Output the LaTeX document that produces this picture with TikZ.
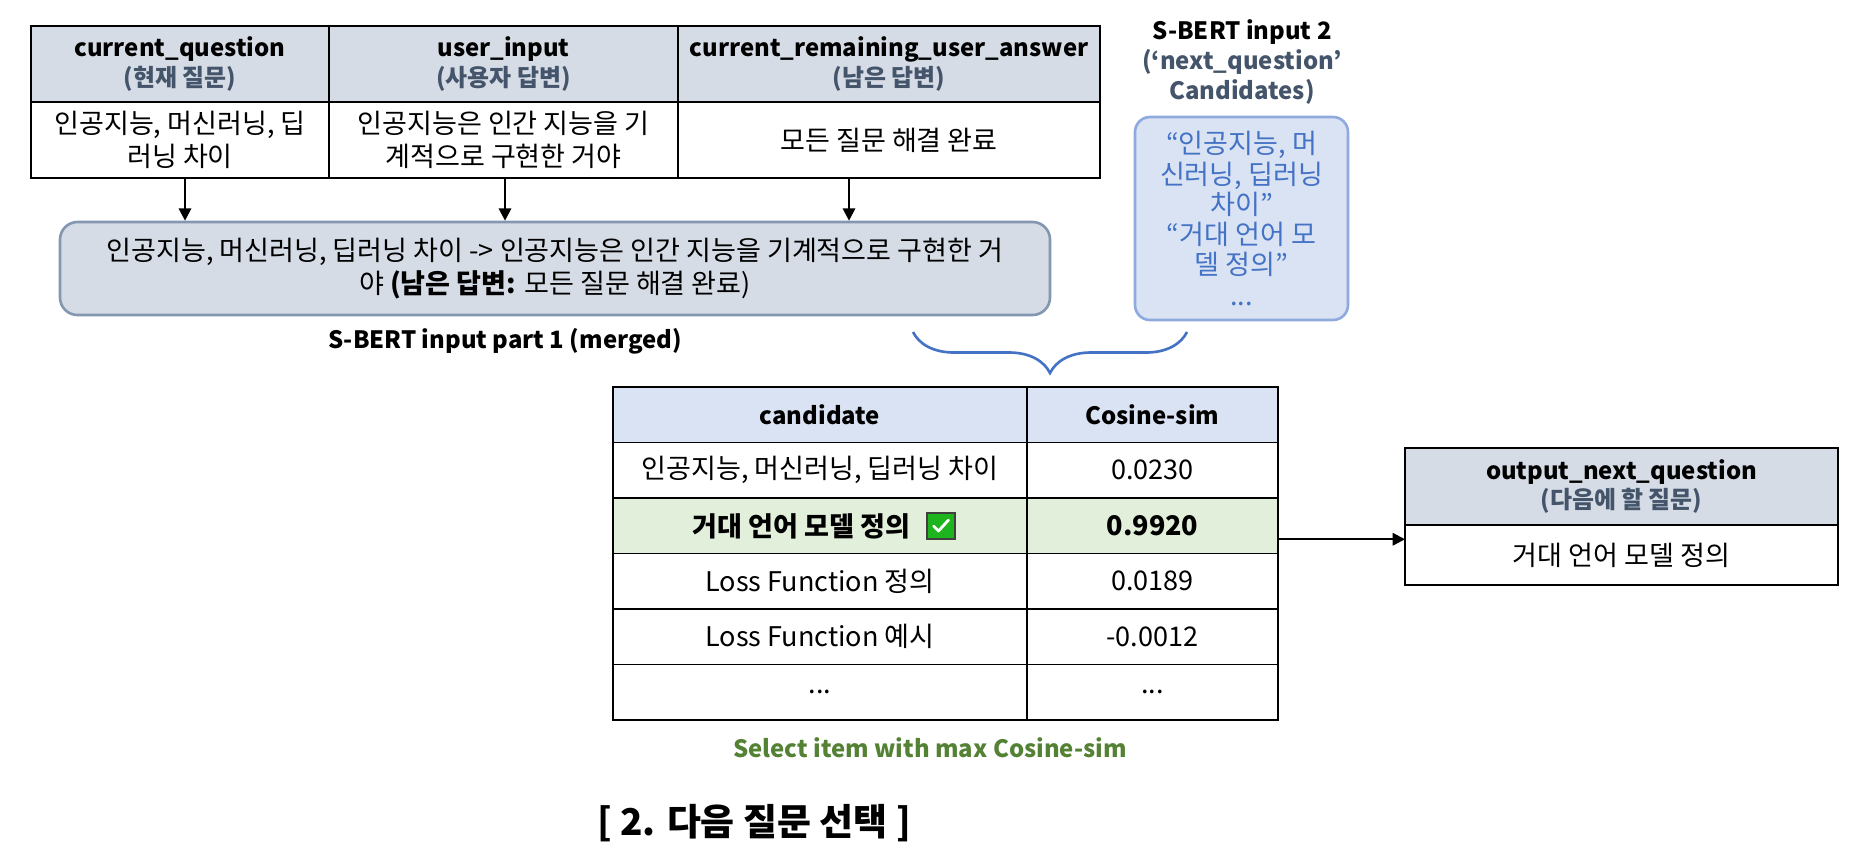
\documentclass[tikz,border=0pt]{standalone}
\usepackage{fontspec}
\setmainfont{Noto Sans CJK KR}
\usetikzlibrary{arrows.meta,positioning,calc,decorations.pathreplacing}

\definecolor{hdrgray}{HTML}{D6DCE5}
\definecolor{hdrblue}{HTML}{DAE3F3}
\definecolor{rowgreen}{HTML}{E2EFDA}
\definecolor{slate}{HTML}{44546A}
\definecolor{mergeedge}{HTML}{8497B0}
\definecolor{candedge}{HTML}{8FAADC}
\definecolor{candblue}{HTML}{4472C4}
\definecolor{selgreen}{HTML}{548235}
\definecolor{checkgreen}{HTML}{1EB41E}

\newcommand{\bodysize}{\fontsize{15.4}{18.4}\selectfont}
\newcommand{\headsize}{\fontsize{13.6}{17}\selectfont}

\begin{document}
\begin{tikzpicture}[
    font=\bodysize,
    cell/.style={draw=black, line width=1.1pt, inner sep=0pt, outer sep=0pt, align=center},
    head_gray/.style={cell, fill=hdrgray, font=\headsize\bfseries},
    head_blue/.style={cell, fill=hdrblue, font=\headsize\bfseries},
    flow/.style={-{Triangle[width=7pt,length=7pt]}, line width=1.3pt, black},
    note/.style={font=\headsize\bfseries, align=center},
    checkbox/.style={draw=black!75, fill=checkgreen, line width=0.8pt, minimum width=0.56cm, minimum height=0.52cm, inner sep=0pt}
]
    \useasboundingbox (0,0) rectangle (37.36,-17.34);

    % Top table: current turn
    \node[head_gray, minimum width=5.96cm, minimum height=1.52cm] (cq_head) at (3.6,-1.28) {current\_question\\\textcolor{slate}{(현재 질문)}};
    \node[head_gray, minimum width=6.98cm, minimum height=1.52cm] (ui_head) at (10.07,-1.28) {user\_input\\\textcolor{slate}{(사용자 답변)}};
    \node[head_gray, minimum width=8.44cm, minimum height=1.52cm] (cr_head) at (17.78,-1.28) {current\_remaining\_user\_answer\\\textcolor{slate}{(남은 답변)}};
    \node[cell, minimum width=5.96cm, minimum height=1.52cm, below=0pt of cq_head] (cq_body) {인공지능, 머신러닝, 딥\\러닝 차이};
    \node[cell, minimum width=6.98cm, minimum height=1.52cm, below=0pt of ui_head] (ui_body) {인공지능은 인간 지능을 기\\계적으로 구현한 거야};
    \node[cell, minimum width=8.44cm, minimum height=1.52cm, below=0pt of cr_head] (cr_body) {모든 질문 해결 완료};

    % Merged input (part 1)
    \node[draw=mergeedge, line width=1.5pt, fill=hdrgray, rounded corners=0.35cm, minimum width=19.8cm, minimum height=1.86cm, align=center, font=\fontsize{15.4}{19}\selectfont] (merged) at (11.1,-5.37)
        {인공지능, 머신러닝, 딥러닝 차이 -> 인공지능은 인간 지능을 기계적으로 구현한 거\\야 \textbf{(남은 답변:} 모든 질문 해결 완료)};
    \node[note] (merged_lbl) at (10.1,-6.82) {S-BERT input part 1 (merged)};

    \foreach \src/\dx in {cq_body/0.1, ui_body/0.03, cr_body/-0.8} {
        \draw[flow] ($(\src.south)+(\dx,0)$) -- ($(\src.south |- merged.north)+(\dx,0)$);
    }

    % Candidates (part 2)
    \node[note] (cand_title) at (24.84,-1.24) {S-BERT input 2\\\textcolor{slate}{(‘next\_question’}\\\textcolor{slate}{Candidates)}};
    \node[draw=candedge, line width=1.5pt, fill=hdrblue, rounded corners=0.3cm, minimum width=4.26cm, minimum height=4.06cm, align=center, text=candblue, font=\fontsize{15.4}{17.2}\selectfont] (cands) at (24.83,-4.37)
        {“인공지능, 머\\신러닝, 딥러닝\\차이”\\“거대 언어 모\\델 정의”\\...};

    % Brace joining both inputs
    \coordinate (brace_l) at (18.26,-6.64);
    \coordinate (brace_r) at (23.74,-6.64);
    \draw[candblue, line width=1.5pt, decorate, decoration={brace, mirror, amplitude=0.82cm}] (brace_l) -- (brace_r);

    % Similarity table
    \node[head_blue, minimum width=8.28cm, minimum height=1.11cm] (cand_head) at (16.4,-8.295) {candidate};
    \node[head_blue, minimum width=5.02cm, minimum height=1.11cm] (sim_head) at (23.05,-8.295) {Cosine-sim};
    \node[cell, minimum width=8.28cm, minimum height=1.11cm, below=0pt of cand_head] (cand_r1) {인공지능, 머신러닝, 딥러닝 차이};
    \node[cell, minimum width=5.02cm, minimum height=1.11cm, below=0pt of sim_head] (sim_r1) {0.0230};
    \node[cell, fill=rowgreen, minimum width=8.28cm, minimum height=1.11cm, below=0pt of cand_r1] (best_cand) {};
    \node[cell, fill=rowgreen, minimum width=5.02cm, minimum height=1.11cm, below=0pt of sim_r1, font=\bodysize\bfseries] (best_sim) {0.9920};
    \node[cell, minimum width=8.28cm, minimum height=1.11cm, below=0pt of best_cand] (cand_r3) {Loss Function 정의};
    \node[cell, minimum width=5.02cm, minimum height=1.11cm, below=0pt of best_sim] (sim_r3) {0.0189};
    \node[cell, minimum width=8.28cm, minimum height=1.11cm, below=0pt of cand_r3] (cand_r4) {Loss Function 예시};
    \node[cell, minimum width=5.02cm, minimum height=1.11cm, below=0pt of sim_r3] (sim_r4) {-0.0012};
    \node[cell, minimum width=8.28cm, minimum height=1.11cm, below=0pt of cand_r4] (cand_r5) {...};
    \node[cell, minimum width=5.02cm, minimum height=1.11cm, below=0pt of sim_r4] (sim_r5) {...};

    % Selected row: text and check box
    \node[checkbox] (best_chk) at (18.82,-10.52) {};
    \node[font=\bodysize\bfseries, left=0.2cm of best_chk] (best_txt) {거대 언어 모델 정의};
    \draw[white, line width=1.6pt, line cap=round, line join=round] ($(best_chk.center)+(-0.15,0)$) -- ($(best_chk.center)+(-0.05,-0.1)$) -- ($(best_chk.center)+(0.15,0.12)$);

    \node[note, text=selgreen] (sel_lbl) at (18.6,-14.96) {Select item with max Cosine-sim};

    % Output table
    \node[head_gray, minimum width=8.66cm, minimum height=1.54cm] (out_head) at (32.43,-9.73) {output\_next\_question\\\textcolor{slate}{(다음에 할 질문)}};
    \node[cell, minimum width=8.66cm, minimum height=1.2cm, below=0pt of out_head] (out_body) {거대 언어 모델 정의};

    \coordinate (sel_out) at ($(best_sim.east)+(0,-0.27)$);
    \draw[flow] (sel_out) -- (sel_out -| out_body.west);

    % Title
    \node[font=\fontsize{21}{24}\selectfont\bfseries] (title) at (15.08,-16.46) {[ 2. 다음 질문 선택 ]};

\end{tikzpicture}
\end{document}
